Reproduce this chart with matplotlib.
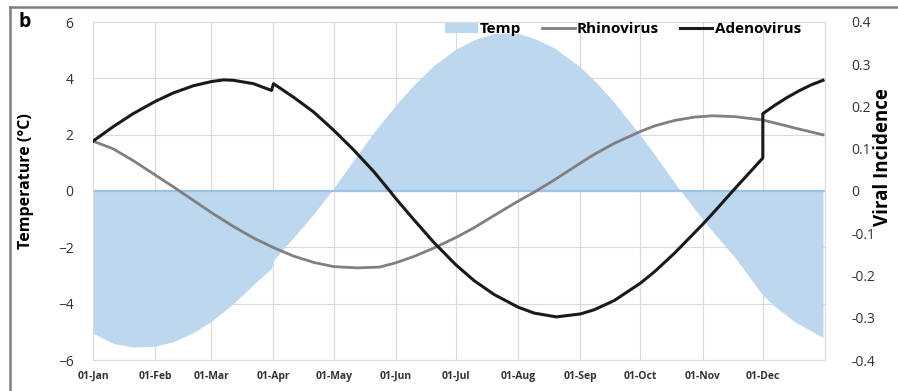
import matplotlib
matplotlib.use("Agg")
import matplotlib.pyplot as plt
from matplotlib.patches import Patch
from matplotlib.lines import Line2D

plt.rcParams['font.family'] = ['Open Sans', 'DejaVu Sans']

# month starts (day of year, 01-Jan = 0)
month_days = [0, 31, 59, 90, 120, 151, 181, 212, 243, 273, 304, 334]
month_labels = ['01-Jan', '01-Feb', '01-Mar', '01-Apr', '01-May', '01-Jun',
                '01-Jul', '01-Aug', '01-Sep', '01-Oct', '01-Nov', '01-Dec']

# temperature anomaly (left axis, deg C)
temp_days = [0, 10, 20, 31, 40, 50, 59, 70, 80, 89, 90, 100, 110, 119, 130, 140,
             151, 160, 170, 181, 190, 200, 206, 212, 220, 230, 243, 250, 260, 273,
             280, 290, 293, 304, 310, 320, 334, 340, 350, 364]
temp_vals = [-5.05, -5.41, -5.54, -5.51, -5.35, -5.03, -4.63, -4.0, -3.32, -2.75,
             -2.45, -1.65, -0.82, 0.0, 1.10, 2.08, 3.05, 3.77, 4.46, 5.04, 5.37,
             5.59, 5.6, 5.59, 5.42, 5.08, 4.4, 3.92, 3.14, 1.97, 1.3, 0.3, 0.0,
             -1.0, -1.53, -2.35, -3.7, -4.1, -4.65, -5.2]

# viral incidence (right axis)
rhino_days = [0, 10, 20, 31, 40, 50, 59, 70, 80, 90, 100, 110, 120, 132, 143, 151,
              160, 170, 181, 190, 200, 212, 221, 230, 243, 250, 260, 273, 280, 290,
              300, 309, 320, 334, 340, 350, 364]
rhino_vals = [0.118, 0.100, 0.072, 0.038, 0.010, -0.022, -0.051, -0.084, -0.111,
              -0.134, -0.154, -0.169, -0.179, -0.182, -0.180, -0.170, -0.155,
              -0.135, -0.110, -0.087, -0.058, -0.024, 0.0, 0.026, 0.066, 0.087,
              0.113, 0.141, 0.154, 0.167, 0.175, 0.178, 0.176, 0.168, 0.161,
              0.149, 0.133]

adeno_days = [0, 10, 20, 31, 40, 50, 59, 65, 70, 80, 89, 90, 100, 110, 120, 130,
              140, 148, 151, 160, 170, 181, 190, 200, 212, 220, 231, 243, 250, 260,
              273, 280, 290, 304, 310, 319, 334, 334, 340, 346, 352, 358, 364]
adeno_vals = [0.118, 0.152, 0.183, 0.212, 0.232, 0.249, 0.259, 0.263, 0.262, 0.254,
              0.238, 0.254, 0.222, 0.187, 0.144, 0.097, 0.046, 0.0, -0.018, -0.068,
              -0.122, -0.175, -0.212, -0.245, -0.275, -0.289, -0.298, -0.291,
              -0.281, -0.259, -0.218, -0.191, -0.147, -0.079, -0.048, 0.0, 0.078,
              0.183, 0.203, 0.221, 0.237, 0.251, 0.262]

TEMP_FILL = '#BDD7EE'
ZERO_LINE = '#9DC3E6'
RHINO_COLOR = '#808080'
ADENO_COLOR = '#1a1a1a'
GRID_COLOR = '#DADADA'
TICK_COLOR = '#333333'

fig = plt.figure(figsize=(8.98, 3.91), dpi=100)
ax = fig.add_axes([93 / 898, 1 - 360 / 391, 732 / 898, 338 / 391])

ax.fill_between(temp_days, temp_vals, 0, color=TEMP_FILL, lw=0, zorder=1)
ax.axhline(0, color=ZERO_LINE, lw=1.6, zorder=2)
ax.set_xlim(0, 365)
ax.set_ylim(-6, 6)
ax.set_yticks([-6, -4, -2, 0, 2, 4, 6])
ax.set_xticks(month_days)
ax.set_xticklabels(month_labels, fontsize=7.5, fontweight='bold', color=TICK_COLOR)
ax.tick_params(axis='x', length=0, pad=8)
ax.tick_params(axis='y', length=0, pad=14, labelsize=10, labelcolor=TICK_COLOR)
ax.grid(True, color=GRID_COLOR, lw=0.8)
ax.set_axisbelow(True)
for s in ax.spines.values():
    s.set_color(GRID_COLOR)
    s.set_linewidth(0.8)
# left label: x is the right edge of the rotated text
ax.set_ylabel('Temperature (°C)', fontsize=11.5, fontweight='bold')
ax.yaxis.set_label_coords(-0.081, 0.53)

ax2 = ax.twinx()
ax2.plot(rhino_days, rhino_vals, color=RHINO_COLOR, lw=2.0, zorder=3)
ax2.plot(adeno_days, adeno_vals, color=ADENO_COLOR, lw=2.2, zorder=4)
ax2.set_ylim(-0.4, 0.4)
ax2.set_yticks([-0.4, -0.3, -0.2, -0.1, 0, 0.1, 0.2, 0.3, 0.4])
ax2.set_yticklabels(['-0.4', '-0.3', '-0.2', '-0.1', '0', '0.1', '0.2', '0.3', '0.4'])
ax2.tick_params(axis='y', length=0, pad=19, labelsize=10, labelcolor=TICK_COLOR)
for s in ax2.spines.values():
    s.set_visible(False)
ax2.set_ylabel('Viral Incidence', fontsize=13.5, fontweight='bold', rotation=90)
ax2.yaxis.set_label_coords(1.066, 0.6)

handles = [Patch(facecolor=TEMP_FILL, edgecolor='none'),
           Line2D([], [], color=RHINO_COLOR, lw=2.0),
           Line2D([], [], color=ADENO_COLOR, lw=2.2)]
leg = ax2.legend(handles, ['Temp', 'Rhinovirus', 'Adenovirus'], loc='upper right',
                 bbox_to_anchor=(0.986, 1.04), ncol=3, frameon=False,
                 handlelength=2.1, handletextpad=0.15, columnspacing=1.4,
                 prop={'weight': 'bold', 'size': 11})

fig.text(18 / 898, 1 - 22 / 391, 'b', fontsize=14, fontweight='bold', va='center')

# grey frame around the panel (top and left visible)
fig.add_artist(Line2D([10 / 898, 1], [1 - 7 / 391, 1 - 7 / 391],
                      transform=fig.transFigure, color='#7f7f7f', lw=1.8))
fig.add_artist(Line2D([10 / 898, 10 / 898], [0, 1 - 7 / 391],
                      transform=fig.transFigure, color='#7f7f7f', lw=1.8))

fig.savefig('out.png', dpi=100)
